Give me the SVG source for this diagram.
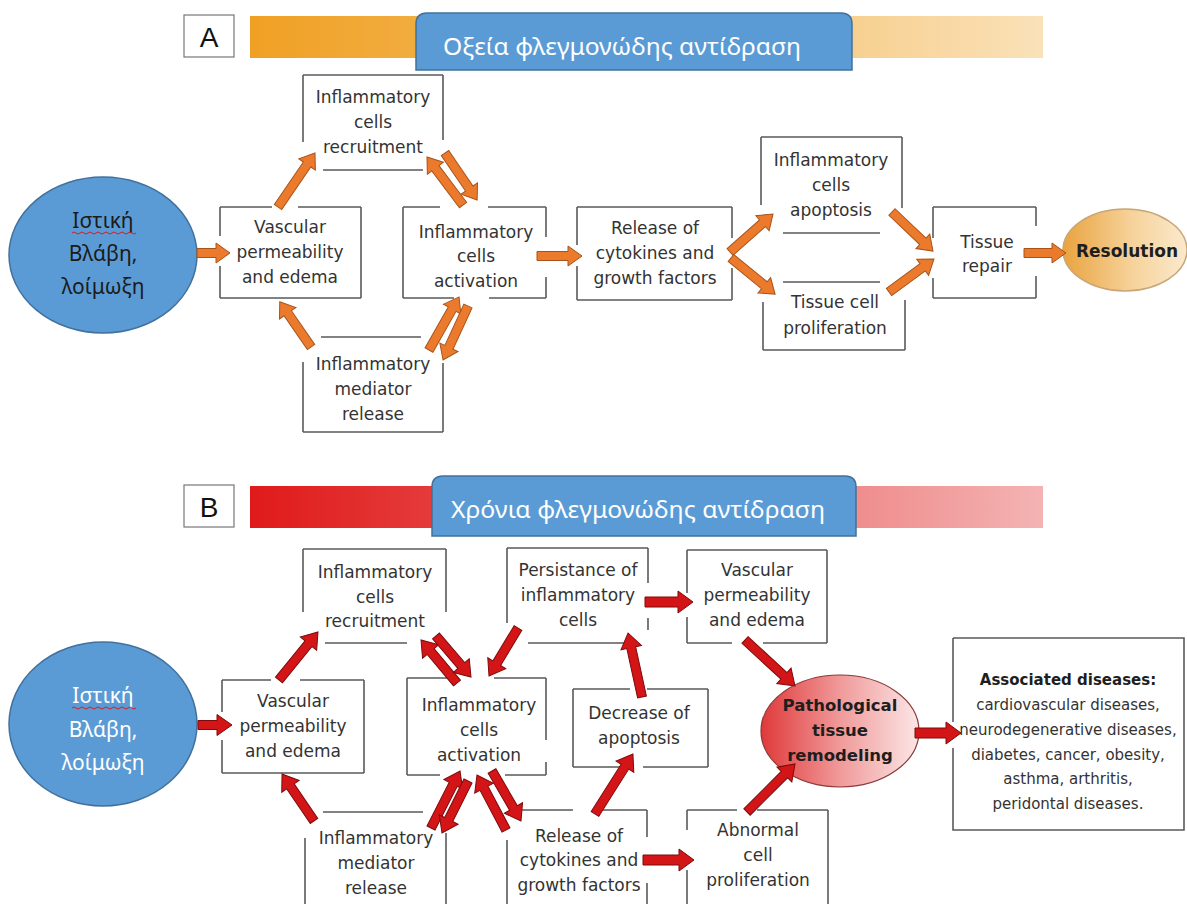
<svg xmlns="http://www.w3.org/2000/svg" width="1187" height="904" viewBox="0 0 1187 904">
<defs>
<linearGradient id="gOr" x1="0" y1="0" x2="1" y2="0"><stop offset="0" stop-color="#f0a024"/><stop offset="0.45" stop-color="#f3bb5e"/><stop offset="1" stop-color="#fae1b8"/></linearGradient>
<linearGradient id="gRd" x1="0" y1="0" x2="1" y2="0"><stop offset="0" stop-color="#e01a1a"/><stop offset="0.45" stop-color="#e95a5a"/><stop offset="1" stop-color="#f4b3b3"/></linearGradient>
<linearGradient id="gRes" x1="0" y1="0" x2="1" y2="0"><stop offset="0" stop-color="#e9a33f"/><stop offset="0.55" stop-color="#f6d29a"/><stop offset="1" stop-color="#fbe9cd"/></linearGradient>
<linearGradient id="gPat" x1="0" y1="0" x2="1" y2="0"><stop offset="0" stop-color="#e0393a"/><stop offset="0.5" stop-color="#f09a9a"/><stop offset="1" stop-color="#fce6e6"/></linearGradient>
<style>
.bx{fill:none;stroke:#5a5a5a;stroke-width:1.6}
.t{font-family:"DejaVu Sans",Verdana,sans-serif;font-size:17px;fill:#333333;text-anchor:middle}
.tb{font-family:"DejaVu Sans",Verdana,sans-serif;font-weight:bold;fill:#1e1e1e;text-anchor:middle}
.ta{font-family:"DejaVu Sans",Verdana,sans-serif;font-size:15px;fill:#333333;text-anchor:middle}
.ct{font-family:"Noto Sans","Open Sans",sans-serif;font-size:21px;text-anchor:middle}
.hd{font-family:"Noto Sans","Open Sans",sans-serif;font-size:24px;fill:#ffffff;text-anchor:middle}
.lt{font-family:"Liberation Sans",Arial,sans-serif;font-size:28px;fill:#111;text-anchor:middle}
.ao{fill:#ec7a2c;stroke:#a8531a;stroke-width:1}
.ar{fill:#d41518;stroke:#7e0a0a;stroke-width:1}
.blue{fill:#5b9bd5;stroke:#41719c;stroke-width:1.5}
.wav{fill:none;stroke:#d02020;stroke-width:1}
</style>
</defs>
<rect width="1187" height="904" fill="#ffffff"/>

<!-- Panel A header -->
<g id="headerA">
<rect x="184" y="15" width="50" height="42" fill="#fff" stroke="#777" stroke-width="1.2"/>
<text class="lt" x="209" y="47">A</text>
<rect x="250" y="16" width="793" height="42" fill="url(#gOr)"/>
<path class="blue" d="M416,70 V24 Q416,13 427,13 H841 Q852,13 852,24 V70 Z"/>
<text class="hd" x="622" y="55" textLength="358" lengthAdjust="spacingAndGlyphs">Οξεία φλεγμονώδης αντίδραση</text>
</g>

<!-- Panel A nodes -->
<g id="A_injury">
<ellipse class="blue" cx="103" cy="255" rx="94" ry="78"/>
<text class="ct" fill="#1b1b1b" x="103" y="228">Ιστική</text>
<path class="wav" d="M72,233 q2,-2 4,0 t4,0 t4,0 t4,0 t4,0 t4,0 t4,0 t4,0 t4,0 t4,0 t4,0 t4,0 t4,0 t4,0 t4,0 t4,0"/>
<text class="ct" fill="#1b1b1b" x="103" y="261">Βλάβη,</text>
<text class="ct" fill="#1b1b1b" x="103" y="294">λοίμωξη</text>
</g>
<g id="A_recruit">
<path class="bx" d="M303,75H443M303,75V142M443,75V140M323,170H423"/>
<text class="t" x="373" y="103">Inflammatory</text>
<text class="t" x="373" y="128">cells</text>
<text class="t" x="373" y="153">recruitment</text>
</g>
<g id="A_vascular">
<path class="bx" d="M220,207H272M298,207H361M220,207V236M220,266V298M361,207V298M220,298H361"/>
<text class="t" x="290" y="233">Vascular</text>
<text class="t" x="290" y="258">permeability</text>
<text class="t" x="290" y="283">and edema</text>
</g>
<g id="A_activation">
<path class="bx" d="M403,207H440M488,207H546M403,207V298M546,207V237M546,277V298M403,298H454M489,298H546"/>
<text class="t" x="476" y="238">Inflammatory</text>
<text class="t" x="476" y="262">cells</text>
<text class="t" x="476" y="287">activation</text>
</g>
<g id="A_mediator">
<path class="bx" d="M321,337H421M303,362V432M443,363V432M303,432H443"/>
<text class="t" x="373" y="370">Inflammatory</text>
<text class="t" x="373" y="395">mediator</text>
<text class="t" x="373" y="420">release</text>
</g>
<g id="A_release">
<path class="bx" d="M577,207H732M577,207V245M577,266V300M732,207V238M732,268V300M577,300H732"/>
<text class="t" x="655" y="234">Release of</text>
<text class="t" x="655" y="259">cytokines and</text>
<text class="t" x="655" y="284">growth factors</text>
</g>
<g id="A_apoptosis">
<path class="bx" d="M761,137H902M761,137V205M902,137V208M783,233H880"/>
<text class="t" x="831" y="166">Inflammatory</text>
<text class="t" x="831" y="191">cells</text>
<text class="t" x="831" y="216">apoptosis</text>
</g>
<g id="A_prolif">
<path class="bx" d="M783,282H880M763,302V350M905,300V350M763,350H905"/>
<text class="t" x="835" y="308">Tissue cell</text>
<text class="t" x="835" y="334">proliferation</text>
</g>
<g id="A_repair">
<path class="bx" d="M933,207H1036M933,207V238M933,278V298M1036,207V226M1036,276V298M933,298H1036"/>
<text class="t" x="987" y="248">Tissue</text>
<text class="t" x="987" y="272">repair</text>
</g>
<g id="A_resolution">
<ellipse cx="1125" cy="250" rx="62" ry="41" fill="url(#gRes)" stroke="#c9a676" stroke-width="1.5"/>
<text class="tb" font-size="17" x="1127" y="257">Resolution</text>
</g>

<!-- Panel B header -->
<g id="headerB">
<rect x="184" y="485" width="50" height="42" fill="#fff" stroke="#777" stroke-width="1.2"/>
<text class="lt" x="209" y="517">B</text>
<rect x="250" y="486" width="793" height="42" fill="url(#gRd)"/>
<path class="blue" d="M432,536 V487 Q432,476 443,476 H845 Q856,476 856,487 V536 Z"/>
<text class="hd" x="638" y="518" textLength="374" lengthAdjust="spacingAndGlyphs">Χρόνια φλεγμονώδης αντίδραση</text>
</g>

<!-- Panel B nodes -->
<g id="B_injury">
<ellipse class="blue" cx="103" cy="724" rx="94" ry="82"/>
<text class="ct" fill="#ffffff" x="103" y="703">Ιστική</text>
<path class="wav" d="M72,708 q2,-2 4,0 t4,0 t4,0 t4,0 t4,0 t4,0 t4,0 t4,0 t4,0 t4,0 t4,0 t4,0 t4,0 t4,0 t4,0 t4,0"/>
<text class="ct" fill="#ffffff" x="103" y="737">Βλάβη,</text>
<text class="ct" fill="#ffffff" x="103" y="770">λοίμωξη</text>
</g>
<g id="B_recruit">
<path class="bx" d="M303,549H446M303,549V612M446,549V612M325,643H407"/>
<text class="t" x="375" y="578">Inflammatory</text>
<text class="t" x="375" y="603">cells</text>
<text class="t" x="375" y="627">recruitment</text>
</g>
<g id="B_vascular">
<path class="bx" d="M222,680H271M300,680H364M222,680V712M222,740V773M364,680V773M222,773H364"/>
<text class="t" x="293" y="707">Vascular</text>
<text class="t" x="293" y="732">permeability</text>
<text class="t" x="293" y="757">and edema</text>
</g>
<g id="B_activation">
<path class="bx" d="M407,678H452M494,678H546M407,678V775M546,678V740M546,762V775M407,775H440M505,775H546"/>
<text class="t" x="479" y="711">Inflammatory</text>
<text class="t" x="479" y="736">cells</text>
<text class="t" x="479" y="761">activation</text>
</g>
<g id="B_mediator">
<path class="bx" d="M323,812H423M305,838V906M446,833V906"/>
<text class="t" x="376" y="844">Inflammatory</text>
<text class="t" x="376" y="869">mediator</text>
<text class="t" x="376" y="894">release</text>
</g>
<g id="B_persist">
<path class="bx" d="M507,548H648M507,548V623M648,548V583M648,618V630M528,643H625"/>
<text class="t" x="578" y="576">Persistance of</text>
<text class="t" x="578" y="601">inflammatory</text>
<text class="t" x="578" y="626">cells</text>
</g>
<g id="B_vascular2">
<path class="bx" d="M687,550H827M687,550V593M687,617V643M827,550V643M687,643H732M763,643H827"/>
<text class="t" x="757" y="576">Vascular</text>
<text class="t" x="757" y="601">permeability</text>
<text class="t" x="757" y="626">and edema</text>
</g>
<g id="B_decrease">
<path class="bx" d="M573,689H630M647,689H708M573,689V767M708,689V767M573,767H620M643,767H708"/>
<text class="t" x="639" y="719">Decrease of</text>
<text class="t" x="639" y="744">apoptosis</text>
</g>
<g id="B_release">
<path class="bx" d="M522,810H573M600,810H647M507,840V906M647,810V837M647,883V906"/>
<text class="t" x="579" y="842">Release of</text>
<text class="t" x="579" y="866">cytokines and</text>
<text class="t" x="579" y="891">growth factors</text>
</g>
<g id="B_abnormal">
<path class="bx" d="M687,810H737M757,810H828M687,810V830M687,870V906M828,810V906"/>
<text class="t" x="758" y="836">Abnormal</text>
<text class="t" x="758" y="861">cell</text>
<text class="t" x="758" y="886">proliferation</text>
</g>
<g id="B_patho">
<ellipse cx="840" cy="731" rx="79" ry="56" fill="url(#gPat)" stroke="#8a3a3a" stroke-width="1.2"/>
<text class="tb" font-size="16.5" x="840" y="711">Pathological</text>
<text class="tb" font-size="16.5" x="840" y="736">tissue</text>
<text class="tb" font-size="16.5" x="840" y="761">remodeling</text>
</g>
<g id="B_diseases">
<path class="bx" d="M953,638H1184V830H953V748M953,722V638"/>
<text class="tb" font-size="15" x="1068" y="685">Associated diseases:</text>
<text class="ta" x="1068" y="710">cardiovascular diseases,</text>
<text class="ta" x="1068" y="735">neurodegenerative diseases,</text>
<text class="ta" x="1068" y="760">diabetes, cancer, obesity,</text>
<text class="ta" x="1068" y="784">asthma, arthritis,</text>
<text class="ta" x="1068" y="809">peridontal diseases.</text>
</g>

<!-- Connectors -->
<g id="connectors">
<path class="ao" transform="translate(197,253)" d="M0,-4.5H19V-10L33,0L19,10V4.5H0Z"/>
<path class="ao" transform="translate(278,207) rotate(-55.6)" d="M0,-4.5H51.5V-10L65.5,0L51.5,10V4.5H0Z"/>
<path class="ao" transform="translate(463,205) rotate(-126.9)" d="M0,-4.5H46V-10L60,0L46,10V4.5H0Z"/>
<path class="ao" transform="translate(445,153) rotate(55.7)" d="M0,-4.5H43V-10L57,0L43,10V4.5H0Z"/>
<path class="ao" transform="translate(311,347) rotate(-124.6)" d="M0,-4.5H41V-10L55,0L41,10V4.5H0Z"/>
<path class="ao" transform="translate(429,350) rotate(-60.5)" d="M0,-4.5H47V-10L61,0L47,10V4.5H0Z"/>
<path class="ao" transform="translate(468,306) rotate(114.8)" d="M0,-4.5H45.5V-10L59.5,0L45.5,10V4.5H0Z"/>
<path class="ao" transform="translate(537,256)" d="M0,-4.5H31V-10L45,0L31,10V4.5H0Z"/>
<path class="ao" transform="translate(730,252) rotate(-41.5)" d="M0,-4.5H43.4V-10L57.4,0L43.4,10V4.5H0Z"/>
<path class="ao" transform="translate(731,258) rotate(39.3)" d="M0,-4.5H43V-10L57,0L43,10V4.5H0Z"/>
<path class="ao" transform="translate(892,212) rotate(43.6)" d="M0,-4.5H42.6V-10L56.6,0L42.6,10V4.5H0Z"/>
<path class="ao" transform="translate(889,292) rotate(-36.3)" d="M0,-4.5H41.8V-10L55.8,0L41.8,10V4.5H0Z"/>
<path class="ao" transform="translate(1024,253)" d="M0,-4.5H28V-10L42,0L28,10V4.5H0Z"/>

<path class="ar" transform="translate(198,725)" d="M0,-4.5H19V-10.5L34,0L19,10.5V4.5H0Z"/>
<path class="ar" transform="translate(279,680) rotate(-50.9)" d="M0,-4.5H46.8V-10.5L61.8,0L46.8,10.5V4.5H0Z"/>
<path class="ar" transform="translate(457,683) rotate(-129.9)" d="M0,-4.5H41.1V-10.5L56.1,0L41.1,10.5V4.5H0Z"/>
<path class="ar" transform="translate(436,636) rotate(49.5)" d="M0,-4.5H38.9V-10.5L53.9,0L38.9,10.5V4.5H0Z"/>
<path class="ar" transform="translate(518,628) rotate(121.1)" d="M0,-4.5H41.1V-10.5L56.1,0L41.1,10.5V4.5H0Z"/>
<path class="ar" transform="translate(314,821) rotate(-124.2)" d="M0,-4.5H41.9V-10.5L56.9,0L41.9,10.5V4.5H0Z"/>
<path class="ar" transform="translate(431,828) rotate(-63)" d="M0,-4.5H49V-10.5L64,0L49,10.5V4.5H0Z"/>
<path class="ar" transform="translate(468,781) rotate(116.6)" d="M0,-4.5H43.1V-10.5L58.1,0L43.1,10.5V4.5H0Z"/>
<path class="ar" transform="translate(506,830) rotate(-117.8)" d="M0,-4.5H47.2V-10.5L62.2,0L47.2,10.5V4.5H0Z"/>
<path class="ar" transform="translate(492,771) rotate(59.9)" d="M0,-4.5H42.8V-10.5L57.8,0L42.8,10.5V4.5H0Z"/>
<path class="ar" transform="translate(595,814) rotate(-57.7)" d="M0,-4.5H56V-10.5L71,0L56,10.5V4.5H0Z"/>
<path class="ar" transform="translate(642,697) rotate(-102.3)" d="M0,-4.5H50.5V-10.5L65.5,0L50.5,10.5V4.5H0Z"/>
<path class="ar" transform="translate(645,602)" d="M0,-5H33V-11L48,0L33,11V5H0Z"/>
<path class="ar" transform="translate(643,860)" d="M0,-5H36V-11L51,0L36,11V5H0Z"/>
<path class="ar" transform="translate(745,640) rotate(42.6)" d="M0,-4.5H52.9V-10.5L67.9,0L52.9,10.5V4.5H0Z"/>
<path class="ar" transform="translate(747,812) rotate(-45)" d="M0,-4.5H52.9V-10.5L67.9,0L52.9,10.5V4.5H0Z"/>
<path class="ar" transform="translate(915,733)" d="M0,-5H31V-11L46,0L31,11V5H0Z"/>
</g>
</svg>
